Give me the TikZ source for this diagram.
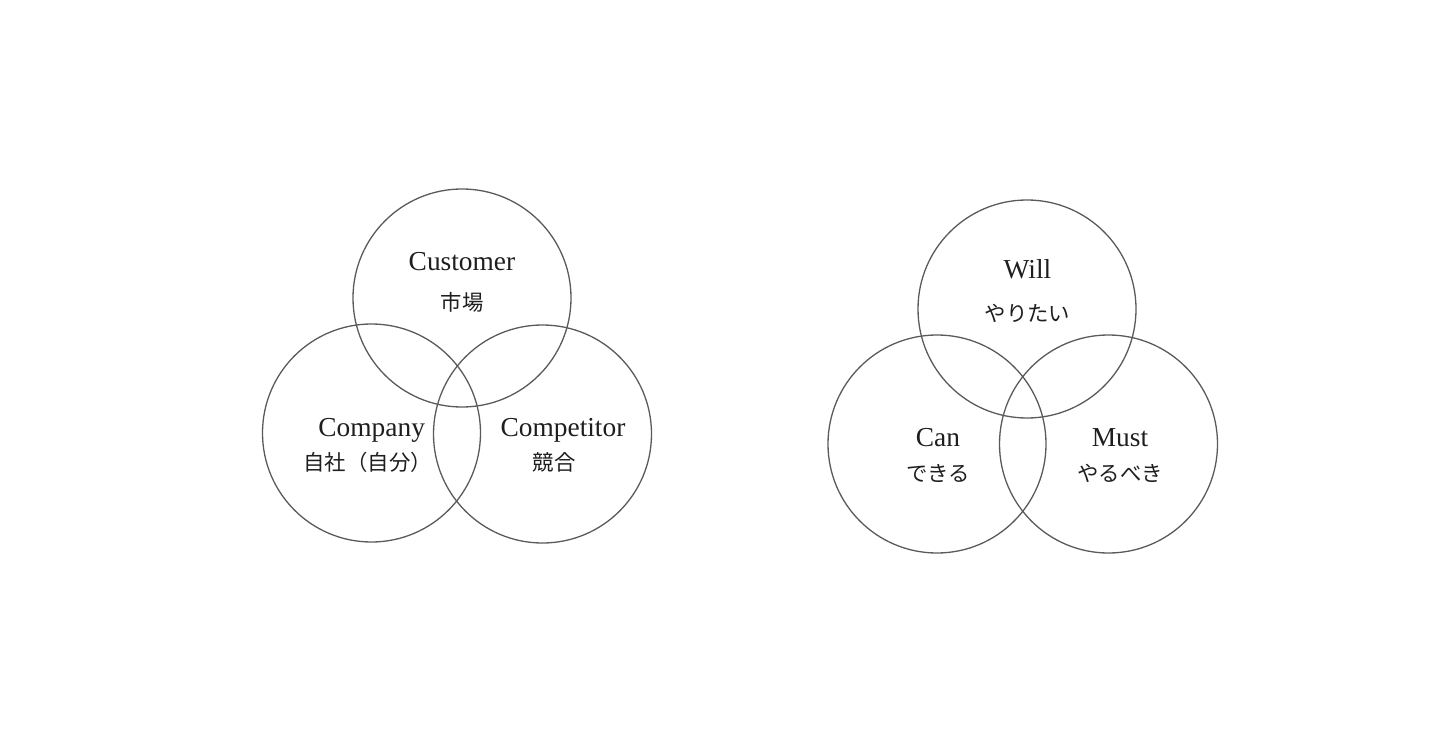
\documentclass[tikz,border=0pt]{standalone}
\usepackage{fontspec}
\setmainfont{Liberation Serif}
\newfontfamily\jpfont{Noto Sans CJK JP}
\usepackage{tikz}
\usetikzlibrary{positioning}
\definecolor{ringgray}{HTML}{5A5A5A}
\definecolor{inkgray}{HTML}{1E1E1E}

\begin{document}
\begin{tikzpicture}[x=0.5pt, y=-0.5pt,
  ring/.style = {circle, draw=ringgray, line width=0.65pt,
                 minimum size=109pt, inner sep=0pt},
  en/.style   = {inner sep=0pt, text height=9.3pt, text depth=0pt,
                 text=inkgray, font=\fontsize{13.7}{16}\selectfont},
  jp/.style   = {inner sep=0pt, text height=9.4pt, text depth=1.3pt,
                 text=inkgray, font=\jpfont\fontsize{10.7}{12}\selectfont}
]
\useasboundingbox (0,0) rectangle (1440,754);

% --- 3C (left) ---
\node[ring] (custring)  at (462,298)   {};
\node[ring] (compring)  at (371.5,433) {};
\node[ring] (rivalring) at (542.5,434) {};

\node[en] (cust)  at (462,261.7)   {Customer};
\node[jp, below=9.7pt of cust]              (custjp)  {市場};
\node[en] (comp)  at (371.7,427)   {Company};
\node[jp, below=7.5pt of comp, xshift=-2pt] (compjp) {自社（自分）};
\node[en] (rival) at (563,427)     {Competitor};
\node[jp, below=7.5pt of rival, xshift=-4.5pt] (rivaljp) {競合};

% --- Will / Can / Must (right) ---
\node[ring] (willring) at (1027,309)   {};
\node[ring] (canring)  at (937,444)    {};
\node[ring] (mustring) at (1108.5,444) {};

\node[en] (will) at (1027.5,269) {Will};
\node[jp, below=12pt of will] (willjp) {やりたい};
\node[en] (can)  at (938,437)    {Can};
\node[jp, below=8pt of can]   (canjp)  {できる};
\node[en] (must) at (1120,437)   {Must};
\node[jp, below=8pt of must]  (mustjp) {やるべき};

\end{tikzpicture}
\end{document}
